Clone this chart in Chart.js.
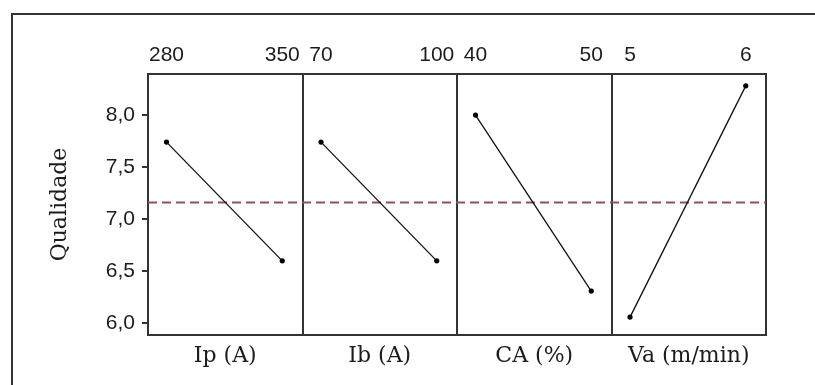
<!DOCTYPE html>
<html>
<head>
<meta charset="utf-8">
<script src="https://cdn.jsdelivr.net/npm/chart.js@4/dist/chart.umd.min.js"></script>
<style>
  html, body { margin: 0; padding: 0; background: #fff; overflow: hidden; }
  #wrap { position: relative; width: 815px; height: 385px; overflow: hidden; background: #fff; }
  #frame { position: absolute; left: 11px; top: 13px; width: 900px; height: 500px;
           border: 2px solid #333; box-sizing: border-box; }
  #c { position: absolute; left: 0; top: 0; }
</style>
</head>
<body>
<div id="wrap">
  <div id="frame"></div>
  <canvas id="c" width="815" height="385"></canvas>
</div>
<script>
// Main effects on quality: mean response at the low and high level of each factor
const factorNames = ['Ip (A)', 'Ib (A)', 'CA (%)', 'Va (m/min)'];
const lowLevels   = [280, 70, 40, 5];
const highLevels  = [350, 100, 50, 6];
const meanAtLow   = [7.74, 7.74, 8.00, 6.06];
const meanAtHigh  = [6.60, 6.60, 6.31, 8.28];
const grandMean   = 7.16;
const yTicks      = [6.0, 6.5, 7.0, 7.5, 8.0];
const yTitle      = 'Qualidade';

const ink = '#1c1c1c';
const frameColor = '#333';
const tickFont  = { family: "'Liberation Sans', Arial, sans-serif", size: 21 };
const titleFont = { family: "'DejaVu Serif', serif", size: 22 };
const fmt = v => v.toFixed(1).replace('.', ',');

const scales = {
  y: {
    position: 'left',
    min: 5.888, max: 8.394,
    afterBuildTicks: a => { a.ticks = yTicks.map(v => ({ value: v })); },
    afterFit: s => { s.width = 128; },
    ticks: { font: tickFont, color: ink, padding: 7, callback: v => fmt(v) },
    grid: { drawOnChartArea: false, drawTicks: true, tickLength: 6, color: frameColor, lineWidth: 2 },
    border: { display: true, color: frameColor, width: 2 },
    title: { display: true, text: yTitle, font: titleFont, color: ink, padding: { top: 27, bottom: 0 } }
  },
  // one hidden axis across the whole plot, carrying the grand-mean reference line
  xAll: { type: 'linear', position: 'top', display: false, min: 0, max: 1 }
};

const n = factorNames.length;
factorNames.forEach((name, i) => {
  const lo = lowLevels[i], hi = highLevels[i], span = hi - lo;
  const min = lo - 0.16 * span, max = hi + 0.175 * span;
  // level labels along the top of each panel (top boxes are laid out by descending weight)
  scales['x' + i] = {
    type: 'linear', position: 'top', stack: 'top', stackWeight: 1, weight: n - i, min, max,
    afterBuildTicks: a => { a.ticks = [{ value: lo }, { value: hi }]; },
    afterFit: s => { s.height = 40; },
    ticks: { font: tickFont, color: ink, padding: 6, autoSkip: false, maxRotation: 0,
             callback: v => String(v) },
    grid: { display: false, drawTicks: false },
    border: { display: true, color: frameColor, width: 2 }
  };
  // factor name under each panel; its edge grid lines form the panel dividers
  scales['b' + i] = {
    type: 'linear', position: 'bottom', stack: 'bottom', stackWeight: 1, weight: i, min, max,
    afterBuildTicks: a => { a.ticks = [{ value: min }, { value: max }]; },
    afterFit: s => { s.height = 50; },
    ticks: { display: false },
    grid: { display: true, drawOnChartArea: true, drawTicks: false, color: frameColor, lineWidth: 2 },
    border: { display: true, color: frameColor, width: 2 },
    title: { display: true, text: name, font: titleFont, color: ink, padding: { top: 0, bottom: 16 } }
  };
});

const datasets = factorNames.map((name, i) => ({
  label: name,
  data: [{ x: lowLevels[i], y: meanAtLow[i] }, { x: highLevels[i], y: meanAtHigh[i] }],
  xAxisID: 'x' + i, yAxisID: 'y',
  borderColor: '#111', borderWidth: 1.3,
  pointRadius: 2.6, pointBackgroundColor: '#000', pointBorderWidth: 0,
  order: 0
}));
datasets.push({
  label: 'Média',
  data: [{ x: 0, y: grandMean }, { x: 1, y: grandMean }],
  xAxisID: 'xAll', yAxisID: 'y',
  borderColor: 'rgb(135,85,90)', borderWidth: 2, borderDash: [9, 5],
  pointRadius: 0, order: 1
});

new Chart(document.getElementById('c'), {
  type: 'line',
  data: { datasets },
  options: {
    responsive: false,
    animation: false,
    events: [],
    layout: { padding: { left: 20, top: 34, right: 49, bottom: 0 } },
    plugins: { legend: { display: false }, tooltip: { enabled: false } },
    scales
  }
});
</script>
</body>
</html>
